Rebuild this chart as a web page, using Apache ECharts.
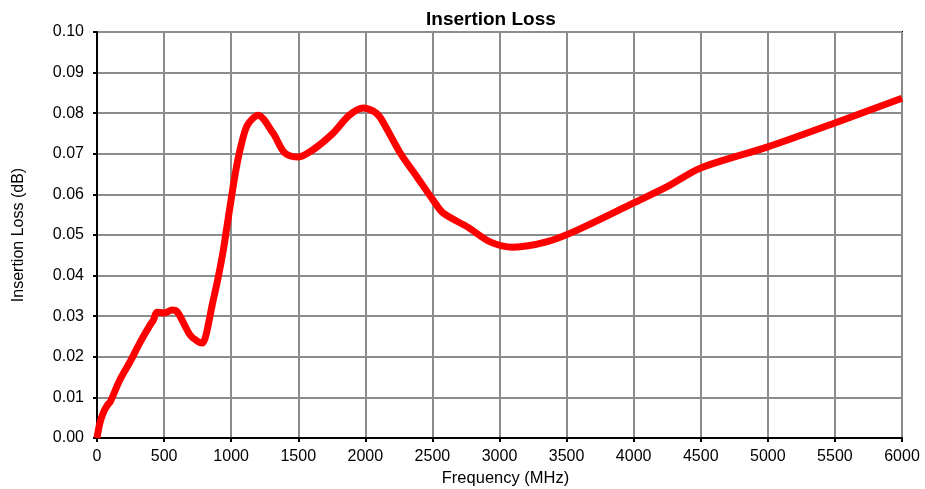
<!DOCTYPE html>
<html><head><meta charset="utf-8">
<script src="https://cdn.jsdelivr.net/npm/echarts@6/dist/echarts.min.js"></script>
<style>html,body{margin:0;padding:0;background:#fff}#c{width:925px;height:489px}</style>
</head><body><div id="c"></div>
<script>
const freqMHz = [0, 20, 50, 80, 100, 170, 250, 320, 395, 420, 447, 500, 560, 600, 693, 750, 783, 805, 830, 860, 900, 940, 976, 1030, 1070, 1120, 1200, 1312, 1400, 1500, 1610, 1760, 1880, 1985, 2060, 2110, 2260, 2385, 2505, 2580, 2760, 2930, 3100, 3350, 3580, 4000, 4250, 4500, 5000, 5500, 6000];
const lossDB = [0, 0.0035, 0.0065, 0.0082, 0.009, 0.0143, 0.019, 0.0235, 0.0278, 0.029, 0.031, 0.0308, 0.0315, 0.031, 0.0254, 0.0238, 0.0234, 0.0245, 0.028, 0.033, 0.039, 0.046, 0.0537, 0.065, 0.0715, 0.077, 0.0795, 0.0751, 0.0702, 0.0692, 0.071, 0.0751, 0.0795, 0.0813, 0.0805, 0.079, 0.0702, 0.0643, 0.0586, 0.0554, 0.052, 0.0483, 0.047, 0.0483, 0.0512, 0.0579, 0.0619, 0.0665, 0.0717, 0.0776, 0.0837];
const chartTitle = 'Insertion Loss';
const xName = 'Frequency (MHz)';
const yName = 'Insertion Loss (dB)';

const chart = echarts.init(document.getElementById('c'));
const font = 'Liberation Sans, Arial, sans-serif';
chart.setOption({
  animation: false,
  title: {text: chartTitle, left: 421, top: 5, textStyle: {fontFamily: font, fontSize: 19, fontWeight: 'bold', color: '#000'}},
  grid: {left: 97, right: 23, top: 32, bottom: 51, containLabel: false, outerBoundsMode: 'none', show: true, borderColor: '#000', borderWidth: 2, backgroundColor: 'transparent'},
  xAxis: {
    type: 'value', min: 0, max: 6000, interval: 500,
    name: xName, nameLocation: 'middle', nameGap: 32,
    nameTextStyle: {fontFamily: font, fontSize: 16.5, color: '#000', padding: [0, 0, 0, 12]},
    axisLine: {show: true, lineStyle: {color: '#000', width: 2}},
    axisTick: {show: true, inside: false, length: 4, lineStyle: {color: '#000', width: 2}},
    axisLabel: {fontFamily: font, fontSize: 16, color: '#000', margin: 11, formatter: v => String(v)},
    splitLine: {show: true, lineStyle: {color: '#8c8c8c', width: 2}}
  },
  yAxis: {
    type: 'value', min: 0, max: 0.1, interval: 0.01,
    name: yName, nameLocation: 'middle', nameGap: 70,
    nameTextStyle: {fontFamily: font, fontSize: 16, color: '#000'},
    axisLine: {show: true, lineStyle: {color: '#000', width: 2}},
    axisTick: {show: true, inside: false, length: 4, lineStyle: {color: '#000', width: 2}},
    axisLabel: {fontFamily: font, fontSize: 16, color: '#000', margin: 13, formatter: v => v.toFixed(2)},
    splitLine: {show: true, lineStyle: {color: '#8c8c8c', width: 2}}
  },
  series: [{
    type: 'line', data: freqMHz.map((f, i) => [f, lossDB[i]]),
    smooth: 0.3, showSymbol: false,
    lineStyle: {color: '#ff0000', width: 7}
  }]
});
</script></body></html>
